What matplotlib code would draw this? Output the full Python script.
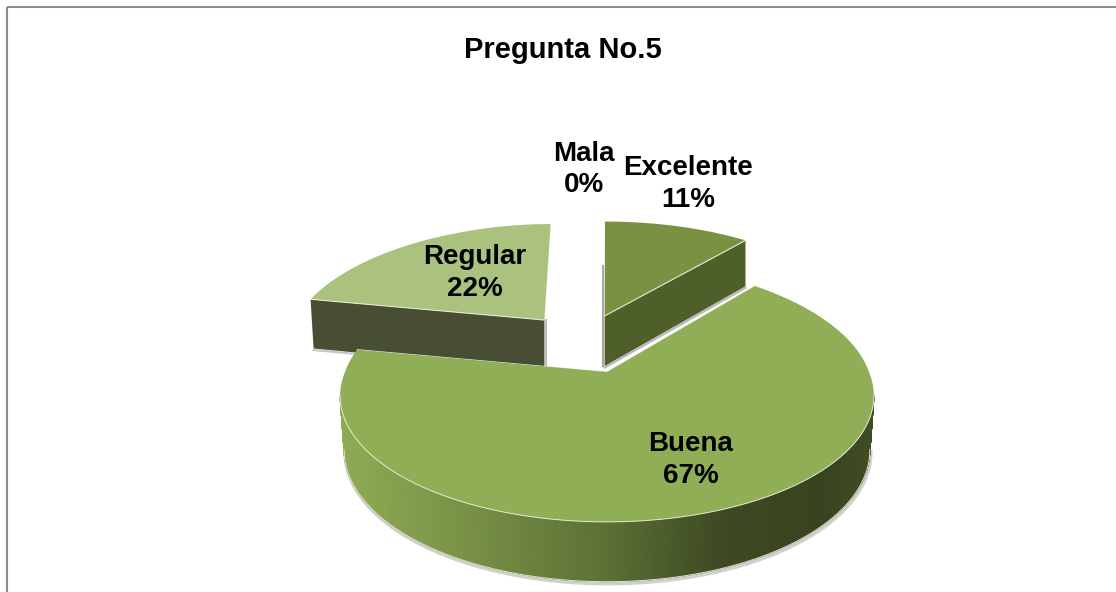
import numpy as np
import matplotlib
matplotlib.use('Agg')
import matplotlib.pyplot as plt
from matplotlib.colors import LinearSegmentedColormap

# datos de la grafica
categorias = ['Excelente', 'Buena', 'Regular', 'Mala']
valores = [11, 67, 22, 0]
titulo = 'Pregunta No.5'

plt.rcParams['font.family'] = ['Liberation Sans', 'DejaVu Sans']

# proyeccion del pastel en pixeles
CX, CY = 607, 372
ANCHO, ALTO, K = 262, 121.4, 0.19
GROSOR, K_G = 53, 0.114


def proyectar(X, Y):
    d = 1 - K * Y
    return CX + ANCHO * X / d, CY + ALTO * Y / d


def arco(t0, t1, off=(0, 0), rx=1.0, ry=1.0, n=200):
    t = np.radians(np.linspace(t0, t1, n))
    return off[0] + rx * np.sin(t), off[1] - ry * np.cos(t)


def grosor(Y):
    return GROSOR / (1 - K_G * Y)


fig = plt.figure(figsize=(11.16, 5.92), dpi=100)
ax = fig.add_axes([0, 0, 1, 1])
ax.set_xlim(0, 1116)
ax.set_ylim(592, 0)
ax.axis('off')

# marco
ax.plot([7, 7], [592, 7], color='#8c8c8c', lw=1.5, solid_capstyle='butt')
ax.plot([7, 1116], [7, 7], color='#8c8c8c', lw=1.5, solid_capstyle='butt')

# angulos desde las 12 en sentido horario
bordes = np.cumsum([0] + valores) * 3.6
a_exc = (bordes[0], bordes[1])
a_bue = (bordes[1], bordes[2])
a_reg = (bordes[2], bordes[3])

# Regular (separada)
off_r = (-0.26, -0.466)
X, Y = arco(*a_reg, off=off_r, rx=1.035, ry=1.12)
X[-60:] -= np.linspace(0, 0.02, 60)
xa, ya = proyectar(*off_r)
xs, ys = proyectar(X, Y)
ax.fill([xs[0], xa, xa, xs[0] + 3],
        [ys[0], ya, ya + grosor(off_r[1]), ys[0] + grosor(Y[0])],
        color='#474e33', lw=0, zorder=2)
ax.plot([xs[0] + 3, xa + 2], [ys[0] + grosor(Y[0]) + 1.5, ya + grosor(off_r[1]) + 1.5],
        color='#c4c4c4', lw=1.5, zorder=1)
ax.plot([xa + 2, xa + 2], [ya, ya + grosor(off_r[1])], color='#bdbdbd', lw=1.5, zorder=1)
ax.fill(np.r_[xa, xs], np.r_[ya, ys], color='#abc27f', lw=0, zorder=3)
ax.plot([xs[0], xa], [ys[0], ya], color='#e3ead4', lw=0.8, zorder=4)

# Excelente (separada)
off_e = (-0.01, -0.506)
X, Y = arco(*a_exc, off=off_e, rx=1.06, ry=1.115)
xa, ya = proyectar(*off_e)
xs, ys = proyectar(X, Y)
ax.fill([xa, xs[-1], xs[-1], xa],
        [ya, ys[-1], ys[-1] + grosor(Y[-1]), ya + grosor(off_e[1])],
        color='#4f5f2a', lw=0, zorder=2)
ax.plot([xa - 2, xa - 2], [ya - 50, ya + grosor(off_e[1])], color='#a8a8a8', lw=1.5, zorder=1)
ax.plot([xa, xs[-1]], [ya + grosor(off_e[1]) + 1.5, ys[-1] + grosor(Y[-1]) + 1.5],
        color='#b5b5b5', lw=1.5, zorder=1)
ax.fill(np.r_[xa, xs], np.r_[ya, ys], color='#7a9144', lw=0, zorder=3)
ax.plot([xa, xs[-1]], [ya, ys[-1]], color='#e3ead4', lw=0.8, zorder=4)

# Buena: la parte del fondo queda algo mas grande por la perspectiva
t = np.radians(np.linspace(*a_bue, 400))
lejos = np.clip(np.cos(t), 0, None)
X = (1 + 0.03 * lejos) * np.sin(t)
Y = -(1 + 0.08 * lejos) * np.cos(t)
xs, ys = proyectar(X, Y)
xa, ya = proyectar(0, 0)
g = grosor(Y)
cmap = LinearSegmentedColormap.from_list('lateral', [
    (0.0, '#8dab53'), (0.18, '#7e984a'), (0.5, '#5c7035'), (0.72, '#3e4a23'),
    (0.9, '#38431f'), (1.0, '#3f4c24')])
# solo la parte visible del lateral, del punto mas a la derecha al mas a la izquierda
i0, i1 = np.argmin(xs), np.argmax(xs)
idx = np.arange(min(i0, i1), max(i0, i1) + 1)
x_base = CX + (xs[idx] - CX) * 0.985
xm = np.vstack([xs[idx], x_base])
ym = np.vstack([ys[idx], ys[idx] + g[idx]])
cm = np.vstack([xs[idx], xs[idx]])
ax.plot(x_base + 1, ys[idx] + g[idx] + 2, color='#bdbdbd', lw=2.5, alpha=0.7, zorder=4)
ax.pcolormesh(xm, ym, cm, cmap=cmap, shading='gouraud', zorder=5, rasterized=True)
ax.plot(x_base, ys[idx] + g[idx], color='#dfe6cf', lw=0.7, zorder=6)

# Buena: cara superior
ax.fill(np.r_[xa, xs], np.r_[ya, ys], color='#8fae55', lw=0, zorder=7)
ax.plot(xs[idx], ys[idx], color='#e6ecd8', lw=0.7, zorder=8)
ax.plot([xs[0], xa, xs[-1]], [ys[0], ya, ys[-1]], color='#e6ecd8', lw=0.8, zorder=6)

# textos
pos_etiquetas = {'Excelente': (688, 184), 'Buena': (691, 460), 'Regular': (475, 273), 'Mala': (584, 169.5)}
for cat, val in zip(categorias, valores):
    x, y = pos_etiquetas[cat]
    ax.text(x, y, f'{cat}\n{val}%', ha='center', va='center', fontsize=20,
            fontweight='bold', color='black', linespacing=1.27, zorder=10)

ax.text(563, 50, titulo, ha='center', va='center', fontsize=21, fontweight='bold', color='black')

fig.savefig('out.png', dpi=100)
